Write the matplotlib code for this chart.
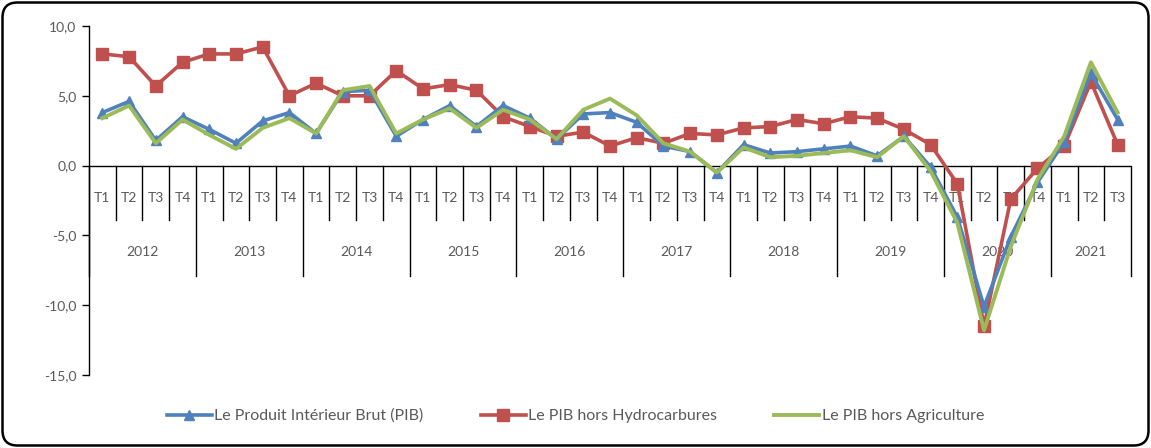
import matplotlib
matplotlib.use("Agg")
import matplotlib.pyplot as plt
from matplotlib.patches import FancyBboxPatch
from matplotlib.lines import Line2D

years = ["2012", "2013", "2014", "2015", "2016", "2017", "2018", "2019", "2020", "2021"]
quarters = ["T1", "T2", "T3", "T4"]
n_quarters_last = 3

pib = [3.8, 4.6, 1.8, 3.5, 2.6, 1.6, 3.2, 3.8, 2.3, 5.3,
       5.4, 2.1, 3.3, 4.3, 2.8, 4.3, 3.4, 1.9, 3.7, 3.8,
       3.1, 1.4, 1.0, -0.5, 1.5, 0.9, 1.0, 1.2, 1.4, 0.7,
       2.1, -0.1, -3.7, -10.1, -5.1, -1.2, 1.7, 6.6, 3.3]
hors_hydro = [8.0, 7.8, 5.7, 7.4, 8.0, 8.0, 8.5, 5.0, 5.9, 5.0,
              5.0, 6.8, 5.5, 5.8, 5.4, 3.5, 2.8, 2.1, 2.4, 1.4,
              2.0, 1.6, 2.3, 2.2, 2.7, 2.8, 3.3, 3.0, 3.5, 3.4,
              2.6, 1.5, -1.3, -11.5, -2.4, -0.2, 1.4, 6.0, 1.5]
hors_agri = [3.4, 4.3, 1.6, 3.3, 2.2, 1.2, 2.7, 3.4, 2.3, 5.4,
             5.7, 2.3, 3.3, 4.1, 2.7, 4.0, 3.3, 1.9, 4.0, 4.8,
             3.6, 1.6, 1.0, -0.5, 1.3, 0.6, 0.7, 0.9, 1.1, 0.6,
             2.1, -0.4, -4.1, -11.8, -5.8, -1.0, 2.1, 7.4, 3.8]
series_names = ["Le Produit Intérieur Brut (PIB)", "Le PIB hors Hydrocarbures",
                "Le PIB hors Agriculture"]
yticks = [10, 5, 0, -5, -10, -15]

plt.rcParams['font.family'] = ['Lato', 'DejaVu Sans']
TXT = "#595959"
BLUE, RED, GREEN = "#4F81BD", "#C0504D", "#9BBB59"

W, H = 1151, 448
fig = plt.figure(figsize=(W / 100, H / 100), dpi=100)
x0, x1, ytop, ybot = 89, 1131, 26, 375
ax = fig.add_axes([x0 / W, (H - ybot) / H, (x1 - x0) / W, (ybot - ytop) / H])

# category labels
labels_q = []
labels_y = []
for k, yr in enumerate(years):
    nq = n_quarters_last if k == len(years) - 1 else 4
    for q in quarters[:nq]:
        labels_q.append(q)
        labels_y.append(yr)
n = len(labels_q)
x = list(range(n))

ax.set_xlim(-0.5, n - 0.5)
ax.set_ylim(-15, 10)
ax.set_yticks(yticks)
ax.set_yticklabels([f"{v:.1f}".replace(".", ",") for v in yticks], color=TXT, fontsize=10)
ax.tick_params(axis="y", direction="out", length=5, width=1, color="black", pad=4)
ax.set_xticks([])
for s in ["top", "right", "bottom"]:
    ax.spines[s].set_visible(False)
ax.spines["left"].set_color("black")
ax.spines["left"].set_linewidth(1)

# category axis at y=0
px = 14.0  # pixels per unit (for layout of the hanging labels)
ax.axhline(0, color="black", lw=1, zorder=2)
q_len = 55 / px
y_len = 111 / px
year_bounds = []
pos = 0
for k, yr in enumerate(years):
    nq = n_quarters_last if k == len(years) - 1 else 4
    year_bounds.append((pos, pos + nq))
    pos += nq
bound_set = set()
for a, b in year_bounds:
    bound_set.add(a)
    bound_set.add(b)
for i in range(n + 1):
    L = y_len if i in bound_set else q_len
    ax.plot([i - 0.5, i - 0.5], [0, -L], color="black", lw=1, zorder=2, clip_on=False)
for i, q in enumerate(labels_q):
    ax.text(i, -32 / px, q, ha="center", va="center", color=TXT, fontsize=10)
for (a, b), yr in zip(year_bounds, years):
    ax.text((a + b - 1) / 2, -87 / px, yr, ha="center", va="center", color=TXT, fontsize=10)

# series
ax.plot(x, pib, color=BLUE, lw=2.6, marker="^", ms=7, zorder=4)
ax.plot(x, hors_hydro, color=RED, lw=2.6, marker="s", ms=8, zorder=3)
ax.plot(x, hors_agri, color=GREEN, lw=2.8, zorder=5)

handles = [Line2D([], [], color=BLUE, lw=2.6, marker="^", ms=7),
           Line2D([], [], color=RED, lw=2.6, marker="s", ms=8),
           Line2D([], [], color=GREEN, lw=2.8)]
leg = fig.legend(handles, series_names, loc="center", bbox_to_anchor=(0.5, 32 / H),
                 ncol=3, frameon=False, fontsize=11.5, handlelength=2.8,
                 handletextpad=0.15, columnspacing=3.6)
for t in leg.get_texts():
    t.set_color(TXT)

# rounded border
box = FancyBboxPatch((0.025, 0.025), W / 100 - 0.05, H / 100 - 0.05,
                     boxstyle="round,pad=0,rounding_size=0.15",
                     transform=fig.dpi_scale_trans, fill=False,
                     edgecolor="black", lw=1.8)
fig.patches.append(box)

fig.savefig("out.png", dpi=100)
